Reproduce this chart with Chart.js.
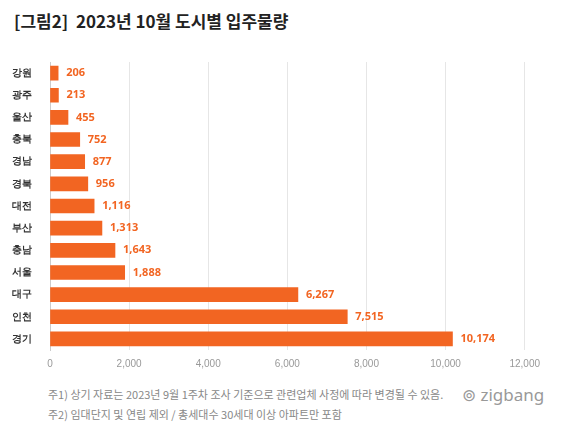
<!DOCTYPE html>
<html><head><meta charset="utf-8">
<script src="https://cdn.jsdelivr.net/npm/chart.js@4"></script>
<style>
body{margin:0;background:#fff;font-family:"Noto Sans CJK KR","Noto Sans",sans-serif;width:575px;height:446px;position:relative;overflow:hidden}
#title{position:absolute;left:14px;top:8px;font-size:17px;font-weight:bold;color:#222}
#wrap{position:absolute;left:2px;top:46px;width:546px;height:332px}
.note{position:absolute;left:48px;font-size:11px;color:#888}
#logo{position:absolute;left:462px;top:383px;font-size:17px;color:#999;font-family:"Noto Sans",sans-serif}
</style></head><body>
<div id="title">[그림2]&nbsp; 2023년 10월 도시별 입주물량</div>
<div id="wrap"><canvas id="c"></canvas></div>
<div class="note" style="top:386px">주1) 상기 자료는 2023년 9월 1주차 조사 기준으로 관련업체 사정에 따라 변경될 수 있음.</div>
<div class="note" style="top:406px">주2) 임대단지 및 연립 제외 / 총세대수 30세대 이상 아파트만 포함</div>
<div id="logo">⊚ zigbang</div>
<script>
const cities = ['강원','광주','울산','충북','경남','경북','대전','부산','충남','서울','대구','인천','경기']
const units = [206,213,455,752,877,956,1116,1313,1643,1888,6267,7515,10174]
const orange = '#f26522'

const valueLabels = {
    id: 'valueLabels',
    afterDatasetsDraw(chart) {
        const {ctx} = chart
        ctx.save()
        ctx.font = 'bold 11px "Noto Sans"'
        ctx.fillStyle = orange
        ctx.textBaseline = 'middle'
        chart.getDatasetMeta(0).data.forEach((bar, i) => {
            ctx.fillText(units[i].toLocaleString('en-US'), bar.x + 8, bar.y)
        })
        ctx.restore()
    }
}

new Chart(document.getElementById('c'), {
    type: 'bar',
    data: {labels: cities, datasets: [{data: units, backgroundColor: orange, barThickness: 14}]},
    options: {
        indexAxis: 'y',
        responsive: true,
        maintainAspectRatio: false,
        animation: false,
        layout: {padding: {right: 10}},
        plugins: {legend: {display: false}, tooltip: {enabled: false}},
        scales: {
            x: {
                min: 0, max: 12000,
                ticks: {stepSize: 2000, color: '#999', font: {size: 10}, padding: 8},
                grid: {color: '#e6e6e6', drawTicks: false},
                border: {display: false}
            },
            y: {
                ticks: {color: '#333', font: {size: 10, weight: 'bold'}, padding: 10},
                grid: {display: false},
                border: {color: '#ccc'}
            }
        }
    },
    plugins: [valueLabels]
})
</script>
</body></html>
